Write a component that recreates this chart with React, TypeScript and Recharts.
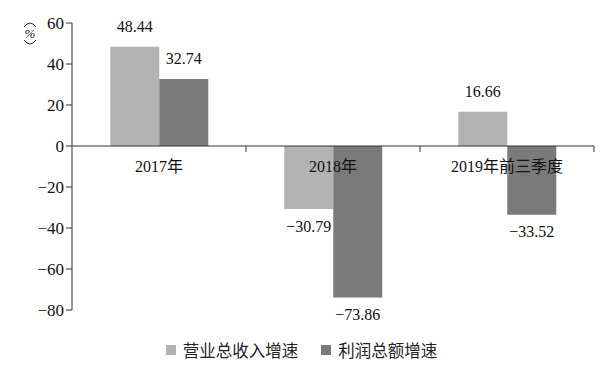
import React from "react";
import { BarChart, Bar, XAxis, YAxis, ReferenceLine, Legend, LabelList } from "recharts";

document.body.style.margin = "0";

const categories = ["2017年", "2018年", "2019年前三季度"];
const revenueGrowth = [48.44, -30.79, 16.66];
const profitGrowth = [32.74, -73.86, -33.52];
const yTicks = [-80, -60, -40, -20, 0, 20, 40, 60];
const seriesNames = ["营业总收入增速", "利润总额增速"];
const seriesColors = ["#b3b3b3", "#7a7a7a"];

const data = categories.map((name, i) => ({
  name,
  revenue: revenueGrowth[i],
  profit: profitGrowth[i],
}));

const SERIF = "'Liberation Serif', 'Times New Roman', 'Noto Sans CJK SC', serif";
const CJK = "'Noto Sans CJK SC', sans-serif";

const TOP = 23;
const PLOT_H = 287;
const Y_MIN = -80;
const Y_MAX = 60;
const zeroY = TOP + (Y_MAX / (Y_MAX - Y_MIN)) * PLOT_H;

const fmt = (v: number) => (v < 0 ? "\u2212" + Math.abs(v) : String(v));

function CategoryTick(props: any) {
  const { x, payload, width } = props;
  const band = width / categories.length;
  return (
    <g>
      <line x1={x + band / 2} x2={x + band / 2} y1={zeroY} y2={zeroY + 6} stroke="#333" />
      <text
        x={x}
        y={zeroY + 20}
        textAnchor="middle"
        dominantBaseline="central"
        fontSize={16}
        fontFamily={SERIF}
        fill="#111"
      >
        {payload.value}
      </text>
    </g>
  );
}

function ValueLabel(props: any) {
  const { x, y, width, height, value } = props;
  const top = Math.min(y, y + height);
  const bottom = Math.max(y, y + height);
  const ly = value >= 0 ? top - 20 : bottom + 17;
  return (
    <text
      x={x + width / 2}
      y={ly}
      textAnchor="middle"
      dominantBaseline="central"
      fontSize={16}
      fontFamily={SERIF}
      fill="#111"
    >
      {fmt(value)}
    </text>
  );
}

function UnitLabel() {
  return (
    <g>
      <path d="M24 27 Q30 19 36 27" fill="none" stroke="#333" strokeWidth={1} />
      <text x={30} y={33} fontSize={13} fontFamily={SERIF} textAnchor="middle" dominantBaseline="central" fontStyle="italic" fill="#222">
        %
      </text>
      <path d="M24 40 Q30 48 36 40" fill="none" stroke="#333" strokeWidth={1} />
    </g>
  );
}

function LegendContent() {
  return (
    <div style={{ height: 60, boxSizing: "border-box", paddingTop: 28, paddingLeft: 9, display: "flex", justifyContent: "center", alignItems: "flex-start", fontFamily: CJK, fontSize: 16.5, color: "#222", lineHeight: "22px" }}>
      {seriesNames.map((n, i) => (
        <div key={n} style={{ display: "flex", alignItems: "center", marginRight: i === 0 ? 23 : 0 }}>
          <span style={{ display: "inline-block", width: 10, height: 10, background: seriesColors[i], marginRight: 7 }} />
          <span>{n}</span>
        </div>
      ))}
    </div>
  );
}

export default function App() {
  return (
    <div style={{ width: 612, height: 371, background: "#fff" }}>
      <BarChart
        width={612}
        height={371}
        data={data}
        margin={{ top: TOP, right: 18, left: 0, bottom: 0 }}
        barCategoryGap="22%"
        barGap={0}
      >
        <XAxis
          dataKey="name"
          axisLine={false}
          tickLine={false}
          height={1}
          tick={<CategoryTick />}
          interval={0}
        />
        <YAxis
          width={72}
          domain={[Y_MIN, Y_MAX]}
          ticks={yTicks}
          interval={0}
          axisLine={{ stroke: "#333" }}
          tickLine={{ stroke: "#333" }}
          tickSize={6}
          tickFormatter={fmt}
          tick={{ fontSize: 17, fontFamily: SERIF, fill: "#111" }}
          label={{ content: () => <UnitLabel /> }}
        />
        <ReferenceLine y={0} stroke="#333" />
        <Legend verticalAlign="bottom" height={60} content={() => <LegendContent />} />
        <Bar dataKey="revenue" name={seriesNames[0]} fill={seriesColors[0]} isAnimationActive={false}>
          <LabelList dataKey="revenue" content={<ValueLabel />} />
        </Bar>
        <Bar dataKey="profit" name={seriesNames[1]} fill={seriesColors[1]} isAnimationActive={false}>
          <LabelList dataKey="profit" content={<ValueLabel />} />
        </Bar>
      </BarChart>
    </div>
  );
}
